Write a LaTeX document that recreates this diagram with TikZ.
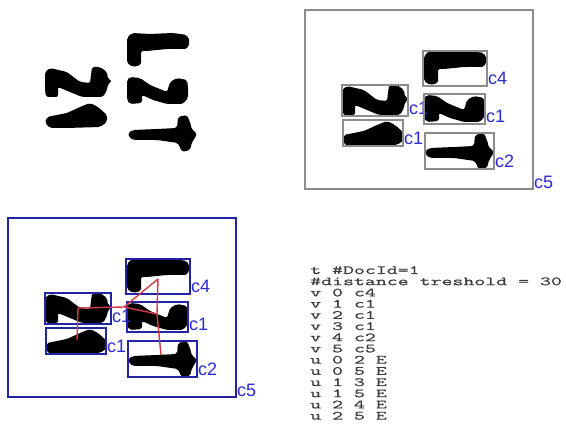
\documentclass[tikz,border=0pt]{standalone}
\usepackage{fontspec}
\usepackage{xcolor}
\usetikzlibrary{calc}
\newfontfamily\lblfont{Liberation Sans}
\newfontfamily\codefont[FakeStretch=1.70,FakeBold=0.6]{Latin Modern Mono}
\definecolor{gnBox}{HTML}{2323A6}
\definecolor{gnLabel}{HTML}{2B2BD4}
\definecolor{gnGray}{HTML}{8C8C8C}
\definecolor{gnEdge}{HTML}{D43A4A}
\definecolor{gnText}{HTML}{3A3A3A}
\tikzset{
  glyph/.style={fill=black,rounded corners=2pt},
  gbox/.style={draw=gnGray,line width=1.3pt},
  bbox/.style={draw=gnBox,line width=1.8pt},
  lbl/.style={anchor=base west,inner sep=0pt,text=gnLabel,
    font=\lblfont\fontsize{18}{18}\selectfont},
  redge/.style={draw=gnEdge,line width=1.4pt},
  codetxt/.style={anchor=north west,inner sep=0pt,align=left,
    text=gnText,font=\codefont\fontsize{12.5}{11.2}\selectfont},
}
% the five handwritten strokes
\newcommand{\penglyphs}{%
  \fill[glyph] (45,72) -- (50,68) -- (67,72) -- (80,82) -- (90,83) -- (92,67)
    -- (100,67) -- (107,72) -- (108,79) -- (112,81) -- (108,84) -- (107,90)
    -- (103,97) -- (82,97) -- (70,92) -- (58,87) -- (58,97) -- (46,97)
    -- (45,90) -- cycle;
  \fill[glyph] (47,117) -- (67,113) -- (80,107) -- (90,103) -- (98,107)
    -- (107,115) -- (107,122) -- (100,127) -- (67,128) -- (50,128)
    -- (45,123) -- cycle;
  \fill[glyph] (127,38) -- (132,33) -- (150,34) -- (173,33) -- (187,35)
    -- (190,42) -- (187,49) -- (167,49) -- (147,51) -- (141,51) -- (141,65)
    -- (133,67) -- (127,63) -- cycle;
  \fill[glyph] (127,80) -- (130,77) -- (140,78) -- (150,85) -- (167,92)
    -- (170,82) -- (177,78) -- (187,80) -- (188,87) -- (188,98) -- (183,104)
    -- (167,104) -- (153,100) -- (142,95) -- (142,103) -- (130,104)
    -- (127,100) -- cycle;
  \fill[glyph] (128,133) -- (133,130) -- (157,129) -- (177,128) -- (178,117)
    -- (187,115) -- (190,122) -- (192,130) -- (197,133) -- (195,138)
    -- (192,142) -- (190,150) -- (182,152) -- (178,143) -- (157,140)
    -- (133,140) -- (129,137) -- cycle;
}
% boxes round the components, #1 box style, #2 name prefix
\newcommand{\compboxes}[2]{%
  \draw[#1] (45,67) rectangle (111,98);
  \node[lbl] (#2a) at (112,97) {c1};
  \draw[#1] (46,102) rectangle (106,128);
  \node[lbl] (#2b) at (107,127) {c1};
  \draw[#1] (126,33) rectangle (190,68);
  \node[lbl] (#2c) at (191,67) {c4};
  \draw[#1] (127,76) rectangle (188,106);
  \node[lbl] (#2d) at (189,105) {c1};
  \draw[#1] (128,115) rectangle (197,151);
  \node[lbl] (#2e) at (198,150) {c2};
  \draw[#1] (8,-8) rectangle (236,171);
  \node[lbl] (#2f) at (237,171) {c5};
}

\begin{document}
\begin{tikzpicture}[x=1pt,y=-1pt]
  \fill[white] (0,0) rectangle (566,425);
  \useasboundingbox (0,0) rectangle (566,425);

  % input image
  \penglyphs

  % components
  \begin{scope}[shift={(297,18)}]
    \penglyphs
    \compboxes{gbox}{tr}
  \end{scope}

  % graph of components
  \begin{scope}[shift={(0,226)}]
    \penglyphs
    \compboxes{bbox}{bl}
    \coordinate (v0) at (158,53);
    \coordinate (v1) at (78,82);
    \coordinate (v2) at (157,88);
    \coordinate (v3) at (77,114);
    \coordinate (v4) at (161,129);
    \coordinate (v5) at (124,81);
    \foreach \from/\to in {v0/v2,v0/v5,v1/v3,v1/v5,v2/v4,v2/v5}
      \draw[redge] (\from) -- (\to);
  \end{scope}

  \node[codetxt] (gfile) at (310,266)
    {t \#DocId=1\\
     \#distance treshold = 30\\
     v 0 c4\\
     v 1 c1\\
     v 2 c1\\
     v 3 c1\\
     v 4 c2\\
     v 5 c5\\
     u 0 2 E\\
     u 0 5 E\\
     u 1 3 E\\
     u 1 5 E\\
     u 2 4 E\\
     u 2 5 E};

\end{tikzpicture}
\end{document}
